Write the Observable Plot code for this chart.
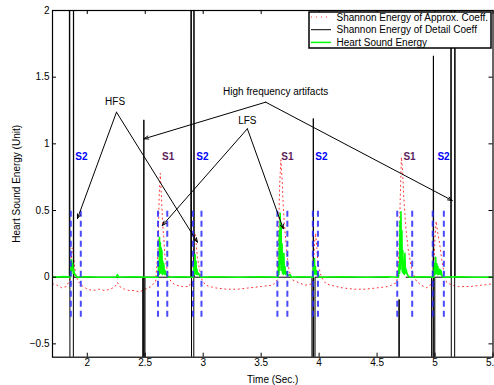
<!DOCTYPE html>
<html>
<head>
<meta charset="utf-8">
<script src="https://cdn.jsdelivr.net/npm/d3@7"></script>
<script src="https://cdn.jsdelivr.net/npm/@observablehq/plot@0.6"></script>
<style>
  html, body { margin: 0; padding: 0; background: #fff; overflow: hidden; width: 494px; height: 385px; }
  #chart { position: relative; width: 520px; }
  #chart svg { max-width: none !important; }
</style>
</head>
<body>
<div id="chart"></div>
<script>
// ---------- data ----------
const xTicks = [2, 2.5, 3, 3.5, 4, 4.5, 5, 5.5];
const yTicks = [-0.5, 0, 0.5, 1, 1.5, 2];

// Shannon energy of approximation coefficients (red dotted)
const approxT = [1.70,1.74,1.78,1.82,1.85,1.86,1.87,1.88,1.89,1.90,1.92,1.95,2.00,2.05,2.10,2.15,2.20,2.24,2.26,2.28,2.32,2.36,2.40,2.45,2.50,2.55,2.59,2.61,2.62,2.63,2.64,2.65,2.66,2.67,2.69,2.72,2.76,2.82,2.88,2.91,2.92,2.93,2.94,2.95,2.97,2.99,3.02,3.10,3.20,3.30,3.40,3.50,3.60,3.64,3.65,3.66,3.67,3.68,3.69,3.70,3.72,3.74,3.77,3.82,3.88,3.94,3.95,3.96,3.97,3.98,3.99,4.02,4.06,4.10,4.20,4.30,4.40,4.50,4.60,4.67,4.69,4.70,4.71,4.72,4.73,4.75,4.77,4.80,4.84,4.88,4.93,4.97,4.99,5.00,5.01,5.02,5.04,5.06,5.08,5.10,5.15,5.20,5.30,5.40,5.50];
const approxV = [-0.05,-0.06,-0.08,-0.07,-0.02,0.10,0.22,0.18,0.08,0.02,-0.03,-0.06,-0.09,-0.10,-0.09,-0.10,-0.09,-0.07,-0.04,-0.07,-0.09,-0.10,-0.10,-0.11,-0.09,-0.07,-0.03,0.20,0.60,0.78,0.60,0.40,0.30,0.15,0.05,-0.03,-0.06,-0.07,-0.07,0.00,0.25,0.33,0.25,0.15,0.05,-0.02,-0.06,-0.08,-0.09,-0.09,-0.08,-0.07,-0.06,-0.02,0.30,0.70,0.88,0.75,0.55,0.40,0.20,0.05,-0.02,-0.04,-0.06,-0.05,0.05,0.25,0.33,0.22,0.10,0.00,-0.05,-0.06,-0.08,-0.09,-0.09,-0.08,-0.07,-0.04,0.20,0.60,0.90,0.80,0.60,0.35,0.20,0.05,-0.03,-0.06,-0.08,-0.05,0.10,0.30,0.42,0.35,0.25,0.12,0.02,-0.04,-0.06,-0.07,-0.07,-0.06,-0.05];

// Shannon energy of detail coefficients (black), spikes run off the axes
const detailT = [1.70,1.845,1.847,1.853,1.879,1.881,1.883,2.478,2.481,2.488,2.495,2.498,2.893,2.896,2.902,2.918,2.920,2.922,3.938,3.941,3.950,3.962,3.965,4.60,4.686,4.688,4.690,4.692,4.694,4.75,4.970,4.974,4.986,4.996,4.998,5.136,5.138,5.142,5.168,5.171,5.173,5.50];
const detailV = [0,0,6,-6,-6,6,0,0,-6,1.18,-6,0,0,6,-6,-6,6,0,0,-6,1.19,-6,0,0,NaN,-0.17,-6,-0.17,NaN,0,0,-6,1.66,-6,0,0,6,-6,-6,6,0,0];

// Heart sound energy (green)
const heartT = [1.70,1.80,1.855,1.86,1.865,1.87,1.875,1.88,1.885,1.89,1.90,1.91,2.00,2.10,2.25,2.26,2.27,2.40,2.50,2.612,2.615,2.62,2.623,2.627,2.63,2.634,2.637,2.64,2.644,2.648,2.652,2.656,2.66,2.665,2.67,2.68,2.69,2.70,2.80,2.915,2.92,2.925,2.93,2.934,2.938,2.942,2.946,2.95,2.96,2.97,2.98,3.10,3.30,3.50,3.645,3.65,3.653,3.657,3.66,3.664,3.668,3.672,3.676,3.68,3.684,3.688,3.692,3.696,3.70,3.705,3.71,3.72,3.73,3.75,3.76,3.85,3.948,3.952,3.956,3.96,3.964,3.968,3.972,3.976,3.98,3.99,4.00,4.20,4.40,4.60,4.685,4.69,4.694,4.698,4.702,4.706,4.71,4.714,4.718,4.722,4.726,4.73,4.735,4.74,4.745,4.75,4.76,4.77,4.78,4.90,4.99,4.995,5.00,5.005,5.01,5.015,5.02,5.025,5.03,5.04,5.045,5.05,5.06,5.07,5.20,5.35,5.50];
const heartV = [0,0.004,0,0.06,0.13,0.05,0.10,0.03,0.05,0.02,0.015,0,0.003,0,0,0.02,0,0.003,0,0,0.12,0.02,0.30,0.05,0.26,0.03,0.22,0.04,0.20,0.02,0.12,0.03,0.10,0.02,0.05,0.02,0.01,0,0.003,0,0.10,0.02,0.17,0.03,0.12,0.02,0.06,0.02,0.03,0.01,0,0.003,0,0.003,0,0.10,0.02,0.35,0.05,0.48,0.10,0.40,0.05,0.25,0.03,0.15,0.02,0.18,0.03,0.08,0.02,0.04,0.01,0.02,0,0.003,0,0.08,0.02,0.14,0.03,0.08,0.02,0.05,0.02,0.03,0,0.003,0,0.003,0,0.10,0.03,0.42,0.06,0.49,0.10,0.35,0.04,0.20,0.03,0.12,0.02,0.18,0.03,0.06,0.02,0.01,0,0.003,0,0.10,0.02,0.15,0.03,0.10,0.02,0.08,0.02,0.06,0.02,0.05,0.01,0,0.003,0,0];

// heart sound segment boundaries (blue dashed)
const boundT = [1.858,1.944,2.61,2.69,2.912,2.985,3.64,3.726,3.946,3.99,4.674,4.803,4.98,5.076];
const boundLow = -0.3;
const boundHigh = 0.5;

// S1 / S2 labels
const soundLabels = ["S2","S1","S2","S1","S2","S1","S2"];
const soundT = [1.95,2.697,2.993,3.726,4.02,4.78,5.073];
const soundV = 0.9;

// annotations
const noteText = ["HFS","LFS","High frequency artifacts"];
const noteT = [2.24,3.381,3.625];
const noteV = [1.3125,1.175,1.39];
const arrowFromT = [2.252,2.252,3.381,3.381,3.539,3.539];
const arrowFromV = [1.2375,1.2375,1.113,1.113,1.3125,1.3125];
const arrowToT = [1.9155,2.95,2.648,3.691,2.49,5.148];
const arrowToV = [0.44,0.2625,0.388,0.363,1.038,0.575];

const legendItems = ["Shannon Energy of Approx. Coeff.","Shannon Energy of Detail Coeff","Heart Sound Energy"];

// ---------- tables ----------
const approx = approxT.map((t,i)=>({t, v: approxV[i]}));
const detail = detailT.map((t,i)=>({t, v: detailV[i]}));
const heart = heartT.map((t,i)=>({t, v: heartV[i]}));
const sounds = soundLabels.map((s,i)=>({s, t: soundT[i]}));
const notes = noteText.map((s,i)=>({s, t: noteT[i], v: noteV[i]}));
const arrows = arrowFromT.map((t,i)=>({x1: t, y1: arrowFromV[i], x2: arrowToT[i], y2: arrowToV[i]}));

const W = 520, H = 385, mL = 52, mR = 27.5, mT = 10, mB = 28.3;
const innerW = W - mL - mR, innerH = H - mT - mB;
const font = "'Liberation Sans', Arial, Helvetica, sans-serif";
const fmt = d => d < 0 ? "\u2212" + String(Math.abs(d)) : String(d);

const chart = Plot.plot({
  width: W, height: H,
  marginLeft: mL, marginRight: mR, marginTop: mT, marginBottom: mB,
  style: {fontFamily: font, fontSize: "10px", color: "#000", background: "#fff", overflow: "visible", maxWidth: "none"},
  x: {domain: [1.7, 5.5]},
  y: {domain: [-0.6, 2]},
  marks: [
    Plot.line(approx, {x: "t", y: "v", stroke: "#ff3030", strokeWidth: 1, strokeDasharray: "1,3.5", clip: true}),
    Plot.line(detail, {x: "t", y: "v", stroke: "#000", strokeWidth: 1, clip: true}),
    Plot.line(heart, {x: "t", y: "v", stroke: "#00ff00", strokeWidth: 1.6, clip: true}),
    Plot.ruleX(boundT, {x: d => d, y1: boundLow, y2: boundHigh, stroke: "#2a2aff", strokeWidth: 2, strokeDasharray: "6,4", strokeOpacity: 0.85}),
    Plot.text(sounds, {x: "t", y: soundV, text: "s", fill: d => d.s === "S1" ? "#5c1f5c" : "#0000ff", fontWeight: "bold", fontSize: 10}),
    Plot.text(notes, {x: "t", y: "v", text: "s", fill: "#000", fontSize: 10}),
    Plot.arrow(arrows, {x1: "x1", y1: "y1", x2: "x2", y2: "y2", stroke: "#000", strokeWidth: 1, headLength: 7, headAngle: 40, insetStart: 0, insetEnd: 0}),
    Plot.frame({stroke: "#000", strokeWidth: 1.2}),
    Plot.tickX(xTicks, {x: d => d, insetTop: innerH - 4, stroke: "#000"}),
    Plot.tickX(xTicks, {x: d => d, insetBottom: innerH - 4, stroke: "#000"}),
    Plot.tickY(yTicks, {y: d => d, insetRight: innerW - 4, stroke: "#000"}),
    Plot.tickY(yTicks, {y: d => d, insetLeft: innerW - 4, stroke: "#000"}),
    Plot.axisX(xTicks, {tickSize: 0, tickPadding: 2, tickFormat: fmt, label: "Time (Sec.)", labelAnchor: "center", labelOffset: 26, labelArrow: "none", fontSize: 10}),
    Plot.axisY(yTicks, {tickSize: 0, tickPadding: 3, tickFormat: fmt, label: "Heart Sound Energy (Unit)", labelAnchor: "center", labelOffset: 40, labelArrow: "none", fontSize: 10})
  ]
});
document.getElementById("chart").appendChild(chart);

// legend box, top right inside the axes
const svg = d3.select(chart);
const lg = svg.append("g").attr("font-family", font).attr("font-size", 10).attr("text-anchor", "start");
lg.append("rect").attr("x", 309).attr("y", 12).attr("width", 182).attr("height", 36)
  .attr("fill", "#fff").attr("stroke", "#000").attr("stroke-width", 1.5);
const legendStyles = [
  {stroke: "#ff3030", dash: "1,4", w: 1},
  {stroke: "#000", dash: null, w: 1},
  {stroke: "#00ff00", dash: null, w: 1.5}
];
legendItems.forEach((label, i) => {
  const y = 17 + i * 12.7;
  const ln = lg.append("line").attr("x1", 311).attr("x2", 331).attr("y1", y).attr("y2", y)
    .attr("stroke", legendStyles[i].stroke).attr("stroke-width", legendStyles[i].w);
  if (legendStyles[i].dash) ln.attr("stroke-dasharray", legendStyles[i].dash);
  lg.append("text").attr("x", 336.5).attr("y", y).attr("dy", "0.35em").attr("fill", "#000").text(label);
});
</script>
</body>
</html>
